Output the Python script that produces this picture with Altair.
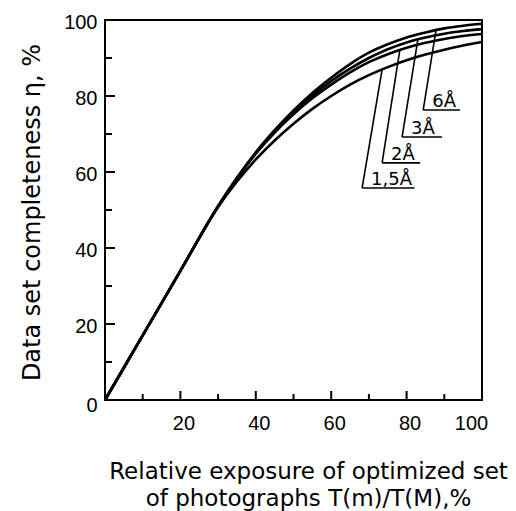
import altair as alt
import numpy as np
import pandas as pd

# ---- data ----
x_vals = [0, 10, 20, 30, 35, 40, 45, 50, 55, 60, 65, 70, 75, 80, 85, 90, 95, 100]
eta_6A = [0, 17, 34, 51, 58.5, 65.2, 71.0, 76.2, 80.8, 84.8, 88.4, 91.4, 93.6, 95.4, 96.7, 97.8, 98.5, 99.0]
eta_3A = [0, 17, 34, 51, 58.4, 65.0, 70.7, 75.7, 80.1, 83.9, 87.2, 90.0, 92.3, 94.1, 95.4, 96.4, 97.1, 97.6]
eta_2A = [0, 17, 34, 51, 58.3, 64.8, 70.4, 75.2, 79.4, 83.0, 86.2, 88.9, 91.0, 92.7, 94.0, 95.0, 95.8, 96.3]
eta_15A = [0, 17, 34, 50.8, 57.5, 63.3, 68.3, 72.7, 76.6, 80.0, 83.0, 85.5, 87.6, 89.4, 90.9, 92.2, 93.3, 94.2]

series_names = ["6Å", "3Å", "2Å", "1,5Å"]
series_vals = [eta_6A, eta_3A, eta_2A, eta_15A]

# annotation leaders (label, curve it points to, bend point, underline end)
labels = ["1,5Å", "2Å", "3Å", "6Å"]
label_series = [eta_15A, eta_2A, eta_3A, eta_6A]
leader_top_x = [73.5, 78.2, 83.0, 87.8]
leader_bot_x = [68.2, 73.5, 78.8, 84.4]
leader_bot_y = [55.8, 62.4, 69.2, 76.3]
underline_end_x = [82.1, 83.6, 89.4, 94.2]

x_major_ticks = [20, 40, 60, 80]
minor_ticks = [10, 30, 50, 70, 90]
y_major_ticks = [20, 40, 60, 80]
x_label_values = [20, 40, 60, 80, 100]
y_label_values = [0, 20, 40, 60, 80, 100]

# ---- tables ----
rows = []
for name, vals in zip(series_names, series_vals):
    for xv, yv in zip(x_vals, vals):
        rows.append({"series": name, "x": xv, "eta": yv})
curve_df = pd.DataFrame(rows)

leader_top_y = [float(np.interp(tx, x_vals, s)) for tx, s in zip(leader_top_x, label_series)]
lead_df = pd.DataFrame({
    "label": labels,
    "tx": leader_top_x, "ty": leader_top_y,
    "bx": leader_bot_x, "by": leader_bot_y,
    "ex": underline_end_x,
})

W, H = 377, 380
xs = alt.Scale(domain=[0, 100], nice=False, zero=False)
ys = alt.Scale(domain=[0, 100], nice=False, zero=False)

lab_font = "Liberation Sans"
tit_font = "DejaVu Sans"

x_axis = alt.Axis(
    values=x_label_values, ticks=False, domain=False, grid=False,
    labelFont=lab_font, labelFontSize=20, labelColor="black",
    labelPadding=13, labelFlush=False,
    labelOffset={"condition": {"test": "datum.value == 100", "value": -11}, "value": 3},
    title=["Relative exposure of optimized set", "of photographs T(m)/T(M),%"],
    titleFont=tit_font, titleFontSize=23, titleFontWeight="normal", titleColor="black",
    titleAnchor="start", titleAlign="center", titleBaseline="alphabetic",
    titleX=203, titleY=78, titleLineHeight=27,
)
y_axis = alt.Axis(
    values=y_label_values, ticks=False, domain=False, grid=False,
    labelFont=lab_font, labelFontSize=20, labelColor="black",
    labelPadding=8, labelFlush=False,
    labelOffset={"condition": {"test": "datum.value == 0", "value": 5}, "value": 2},
    title="Data set completeness η, %",
    titleFont=tit_font, titleFontSize=24, titleFontWeight="normal", titleColor="black",
    titleAngle=-90, titleAlign="center", titleBaseline="alphabetic",
    titleX=-66, titleY=192,
)

curves = alt.Chart(curve_df).mark_line(
    color="black", strokeWidth=2.6, interpolate="monotone"
).encode(
    x=alt.X("x:Q", scale=xs, axis=x_axis),
    y=alt.Y("eta:Q", scale=ys, axis=y_axis),
    detail="series:N",
)

ymaj = alt.Chart(pd.DataFrame({"v": y_major_ticks})).mark_rule(color="black", strokeWidth=2).encode(
    y=alt.Y("v:Q", scale=ys), x=alt.value(0), x2=alt.value(10))
ymin = alt.Chart(pd.DataFrame({"v": minor_ticks})).mark_rule(color="black", strokeWidth=2).encode(
    y=alt.Y("v:Q", scale=ys), x=alt.value(0), x2=alt.value(7))
xmaj = alt.Chart(pd.DataFrame({"v": x_major_ticks})).mark_rule(color="black", strokeWidth=2).encode(
    x=alt.X("v:Q", scale=xs), y=alt.value(H), y2=alt.value(H - 9))
xmin = alt.Chart(pd.DataFrame({"v": minor_ticks})).mark_rule(color="black", strokeWidth=2).encode(
    x=alt.X("v:Q", scale=xs), y=alt.value(H), y2=alt.value(H - 6))

leaders = alt.Chart(lead_df).mark_rule(color="black", strokeWidth=1.6).encode(
    x=alt.X("tx:Q", scale=xs), y=alt.Y("ty:Q", scale=ys),
    x2="bx:Q", y2="by:Q")
underl = alt.Chart(lead_df).mark_rule(color="black", strokeWidth=1.6).encode(
    x=alt.X("bx:Q", scale=xs), y=alt.Y("by:Q", scale=ys),
    x2="ex:Q")
texts = alt.Chart(lead_df).mark_text(
    align="left", baseline="alphabetic", dx=9, dy=-3,
    font=tit_font, fontSize=18, color="black"
).encode(
    x=alt.X("bx:Q", scale=xs), y=alt.Y("by:Q", scale=ys),
    text="label:N")

chart = alt.layer(curves, ymaj, ymin, xmaj, xmin, leaders, underl, texts).properties(
    width=W, height=H,
    padding={"left": 97, "top": 12, "right": 26, "bottom": 111},
    autosize=alt.AutoSizeParams(type="none"),
    background="white",
).configure_view(stroke="black", strokeWidth=2)

chart.save("out.html", embed_options={"renderer": "svg", "actions": False})
